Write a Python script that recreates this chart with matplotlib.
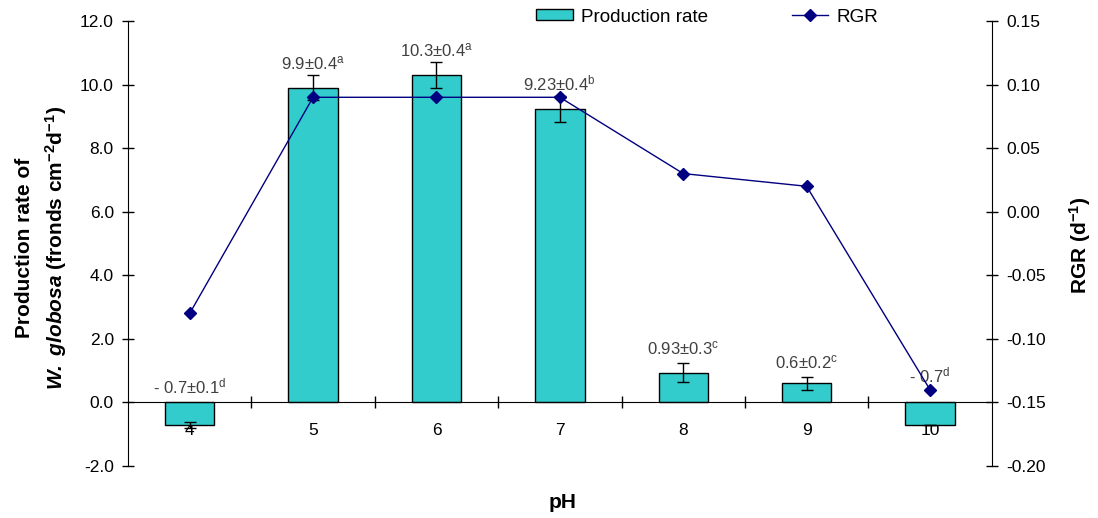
import matplotlib
matplotlib.use('Agg')
import matplotlib.pyplot as plt
import numpy as np

# pH das culturas
ph = ['4', '5', '6', '7', '8', '9', '10']
# taxa de produção (frondes cm-2 d-1) e desvio
producao = [-0.7, 9.9, 10.3, 9.23, 0.93, 0.6, -0.7]
erro = [0.1, 0.4, 0.4, 0.4, 0.3, 0.2, 0.0]
letras = ['d', 'a', 'a', 'b', 'c', 'c', 'd']
# taxa de crescimento relativo (d-1)
rgr = [-0.08, 0.09, 0.09, 0.09, 0.03, 0.02, -0.14]

plt.rcParams['font.family'] = ['Liberation Sans', 'DejaVu Sans']
plt.rcParams['mathtext.fontset'] = 'custom'
plt.rcParams['mathtext.rm'] = 'Liberation Sans'
plt.rcParams['mathtext.it'] = 'Liberation Sans:italic'
plt.rcParams['mathtext.bf'] = 'Liberation Sans:bold'
plt.rcParams['mathtext.bfit'] = 'Liberation Sans:bold:italic'

W, H = 1098, 518
fig = plt.figure(figsize=(W / 100, H / 100), dpi=100)
ax = fig.add_axes([128 / W, 1 - 466 / H, (991.7 - 128) / W, 445 / H])
x = np.arange(len(ph)) + 0.5

barras = ax.bar(x, producao, width=0.4, color='#33CCCC', edgecolor='black',
                linewidth=1, zorder=2)
ax.errorbar(x, producao, yerr=erro, fmt='none', ecolor='black', elinewidth=1,
            capsize=4, capthick=1, zorder=3)

# rótulos com média ± desvio e letra do teste
desloc = [4, 2, 2, 2, 4, 4, 12]
for xi, v, e, l, d in zip(x, producao, erro, letras, desloc):
    txt = ('- ' + str(abs(v))) if v < 0 else str(v)
    if e > 0:
        txt += '±' + str(e)
    txt += '$^{\\mathrm{' + l + '}}$'
    ax.annotate(txt, (xi, max(v + e, 0)), xytext=(0, d), textcoords='offset points',
                ha='center', va='bottom', fontsize=12, color='#404040', zorder=4)

ax.set_xlim(0, 7)
ax.set_ylim(-2, 12)
ax.set_yticks(np.arange(-2, 12.1, 2))
ax.set_yticklabels([f'{t:.1f}' for t in np.arange(-2, 12.1, 2)])
ax.spines['top'].set_visible(False)
ax.spines['right'].set_visible(False)
ax.spines['bottom'].set_position(('data', 0))
ax.set_xticks(np.arange(1, 7))
ax.set_xticklabels([])
ax.set_xticks(x, minor=True)
ax.set_xticklabels(ph, minor=True)
ax.tick_params(axis='x', which='major', direction='inout', length=8.5, width=1)
ax.tick_params(axis='x', which='minor', length=0, pad=15, labelsize=12.5)
ax.tick_params(axis='y', direction='inout', length=8.5, width=1, pad=6, labelsize=12.5)

ax2 = ax.twinx()
linha, = ax2.plot(x, rgr, color='#000080', marker='D', markersize=6, lw=1, zorder=5)
ax2.set_ylim(-0.2, 0.15)
yt2 = np.arange(-0.20, 0.151, 0.05)
ax2.set_yticks(yt2)
ax2.set_yticklabels([f'{t:.2f}' if abs(t) > 1e-9 else '0.00' for t in yt2])
for s in ['top', 'left', 'bottom']:
    ax2.spines[s].set_visible(False)
ax2.tick_params(axis='y', direction='inout', length=8.5, width=1, pad=6, labelsize=12.5)

fig.text(42 / W, 1 - 248 / H,
         'Production rate of\n$\\mathbfit{W.\\ globosa}$ (fronds $\\mathbf{cm^{-2}d^{-1}}$)',
         rotation=90, ha='center', va='center', ma='center', fontsize=15,
         fontweight='bold', linespacing=1.5)
fig.text(1080 / W, 1 - 245 / H, 'RGR (d$\\mathbf{^{-1}}$)', rotation=90,
         ha='center', va='center', fontsize=15, fontweight='bold')
fig.text(563 / W, 1 - 503 / H, 'pH', ha='center', va='center', fontsize=15,
         fontweight='bold')

fig.legend([barras, linha], ['Production rate', 'RGR'], loc='center left',
           bbox_to_anchor=(536 / W, 1 - 17 / H), ncol=2, frameon=False,
           fontsize=13.6, handlelength=1.95, handleheight=0.5, handletextpad=0.45,
           columnspacing=4.4, borderpad=0, borderaxespad=0)

fig.savefig('out.png', dpi=100)
